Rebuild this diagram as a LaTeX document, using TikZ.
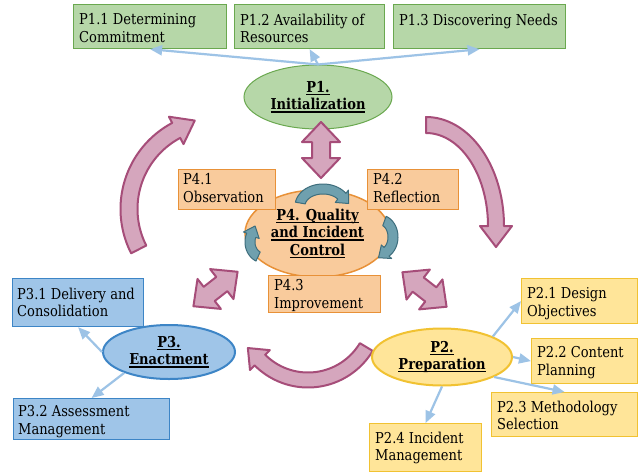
\documentclass[tikz,border=0pt]{standalone}
\usepackage{fontspec}
\setmainfont{DejaVu Serif}[FakeStretch=0.87]
\usetikzlibrary{shapes.geometric,arrows.meta}

\definecolor{gfill}{RGB}{182,215,168}
\definecolor{gline}{RGB}{106,168,79}
\definecolor{ofill}{RGB}{249,203,156}
\definecolor{oline}{RGB}{232,145,56}
\definecolor{bfill}{RGB}{159,197,232}
\definecolor{bline}{RGB}{61,133,198}
\definecolor{yfill}{RGB}{255,229,153}
\definecolor{yline}{RGB}{241,194,50}
\definecolor{pfill}{RGB}{213,166,189}
\definecolor{pline}{RGB}{166,77,121}
\definecolor{tfill}{RGB}{111,160,174}
\definecolor{tline}{RGB}{62,110,125}
\definecolor{conncol}{RGB}{157,195,230}

\newcommand{\myul}[1]{\setbox0\hbox{#1}\leavevmode\rlap{\rule[-2.6pt]{\wd0}{1.2pt}}\box0}

% cx cy rx ry t0 t1 halfwidth headhalfwidth headlength
\newcommand{\bentarrow}[9]{%
\pgfmathsetmacro{\baS}{2*(#6>#5)-1}%
\pgfmathsetmacro{\baPx}{#1+#3*cos(#6)}%
\pgfmathsetmacro{\baPy}{#2+#4*sin(#6)}%
\pgfmathsetmacro{\baTx}{\baS*(0-#3*sin(#6))}%
\pgfmathsetmacro{\baTy}{\baS*#4*cos(#6)}%
\pgfmathsetmacro{\baTl}{veclen(\baTx,\baTy)}%
\pgfmathsetmacro{\baNx}{#4*cos(#6)}%
\pgfmathsetmacro{\baNy}{#3*sin(#6)}%
\pgfmathsetmacro{\baNl}{veclen(\baNx,\baNy)}%
\pgfmathsetmacro{\baAx}{\baPx+#8*\baNx/\baNl}%
\pgfmathsetmacro{\baAy}{\baPy+#8*\baNy/\baNl}%
\pgfmathsetmacro{\baBx}{\baPx-#8*\baNx/\baNl}%
\pgfmathsetmacro{\baBy}{\baPy-#8*\baNy/\baNl}%
\pgfmathsetmacro{\baCx}{\baPx+#9*\baTx/\baTl}%
\pgfmathsetmacro{\baCy}{\baPy+#9*\baTy/\baTl}%
\path[bentstyle] plot[domain=#5:#6,samples=60] ({#1+(#3+#7)*cos(\x)},{#2+(#4+#7)*sin(\x)}) -- (\baAx,\baAy) -- (\baCx,\baCy) -- (\baBx,\baBy) -- plot[domain=#6:#5,samples=60] ({#1+(#3-#7)*cos(\x)},{#2+(#4-#7)*sin(\x)}) -- cycle;%
}

\newcommand{\dblarrow}[3]{%
\begin{scope}[shift={(#1,#2)},rotate=#3]
\path[pinkshape] (-28,0) -- (-8,19) -- (-8,9) -- (8,9) -- (8,19) -- (28,0) -- (8,-19) -- (8,-9) -- (-8,-9) -- (-8,-19) -- cycle;
\end{scope}}

\tikzset{
  boxbase/.style={anchor=north west, inner sep=0, line width=1.2pt},
  gbox/.style={boxbase, draw=gline, fill=gfill},
  obox/.style={boxbase, draw=oline, fill=ofill},
  bbox/.style={boxbase, draw=bline, fill=bfill},
  ybox/.style={boxbase, draw=yline, fill=yfill},
  btxt/.style={anchor=north west, inner sep=0, align=left},
  phase/.style={ellipse, inner sep=0, align=center, font=\fontsize{15}{17.3}\selectfont\bfseries},
  pinkshape/.style={fill=pfill, draw=pline, line width=2pt, line join=round},
  tealshape/.style={fill=tfill, draw=tline, line width=1pt, line join=round},
  conn/.style={draw=conncol, line width=2.2pt, -{Triangle[length=12pt,width=10pt]}},
}

\begin{document}
\begin{tikzpicture}[x=1pt, y=-1pt, font=\fontsize{15}{17.3}\selectfont]
\useasboundingbox (0,0) rectangle (638,472);
\fill[white] (0,0) rectangle (638,472);

% big pink cycle arrows
\tikzset{bentstyle/.style={pinkshape}}
\bentarrow{218}{209}{89}{89}{153}{242}{8.5}{15.5}{21}
\bentarrow{426}{226}{70}{101}{270}{360}{8}{16}{21}
\bentarrow{308}{312}{68}{68}{31}{135}{7.5}{14}{17}

% boxes
\node[gbox, minimum width=153, minimum height=44] (p11) at (73,4) {};
\node[gbox, minimum width=150, minimum height=44] (p12) at (234,4) {};
\node[gbox, minimum width=172, minimum height=44] (p13) at (393,4) {};

\node[ellipse, draw=gline, fill=gfill, line width=1pt, minimum width=148, minimum height=64, inner sep=0] (p1) at (318,97) {};

\node[ellipse, draw=oline, fill=ofill, line width=1.5pt, minimum width=145, minimum height=87, inner sep=0] (p4) at (317.5,233.5) {};
\node[obox, minimum width=97, minimum height=40] (p41) at (178,169) {};
\node[obox, minimum width=91, minimum height=40] (p42) at (367,169) {};
\node[obox, minimum width=112, minimum height=37] (p43) at (268,275) {};

\node[bbox, minimum width=131, minimum height=48] (p31) at (12,278) {};
\node[bbox, minimum width=156, minimum height=41] (p32) at (13,398) {};
\node[ellipse, draw=bline, fill=bfill, line width=2pt, minimum width=132, minimum height=54, inner sep=0] (p3) at (169,352) {};

\node[ybox, minimum width=116, minimum height=45] (p21) at (521,278) {};
\node[ybox, minimum width=106, minimum height=45] (p22) at (531,338) {};
\node[ybox, minimum width=146, minimum height=44] (p23) at (491,392) {};
\node[ybox, minimum width=112, minimum height=48] (p24) at (369,423) {};
\node[ellipse, draw=yline, fill=yfill, line width=2pt, minimum width=140, minimum height=57, inner sep=0] (p2) at (442,357) {};

% double arrows
\dblarrow{321}{150}{90}
\dblarrow{215.5}{289}{38}
\dblarrow{424.5}{289.5}{-38}

% teal cycle arrows
\tikzset{bentstyle/.style={tealshape}}
\bentarrow{323}{206}{23}{17}{190}{325}{5}{9}{10}
\bentarrow{380}{237}{13}{17}{290}{420}{5}{8.5}{10}
\bentarrow{264}{242}{14}{16}{115}{205}{5}{8.5}{10}

% texts
\node[btxt] (t11) at (79,13.5) {P1.1 Determining\\Commitment};
\node[btxt] (t12) at (240,13.5) {P1.2 Availability of\\Resources};
\node[btxt] (t13) at (399,13.5) {P1.3 Discovering Needs};
\node[btxt] (t41) at (183,173.5) {P4.1\\Observation};
\node[btxt] (t42) at (373,173.5) {P4.2\\Reflection};
\node[btxt] (t43) at (274,279.5) {P4.3\\Improvement};
\node[btxt] (t31) at (17,287.5) {P3.1 Delivery and\\Consolidation};
\node[btxt] (t32) at (18,405.5) {P3.2 Assessment\\Management};
\node[btxt] (t21) at (527,287.5) {P2.1 Design\\Objectives};
\node[btxt] (t22) at (537,346.5) {P2.2 Content\\Planning};
\node[btxt] (t23) at (497,400.5) {P2.3 Methodology\\Selection};
\node[btxt] (t24) at (375,431.5) {P2.4 Incident\\Management};

\node[phase] (l1) at (p1.center) {\myul{P1.}\\\myul{Initialization}};
\node[phase] (l4) at (p4.center) {\myul{P4. Quality}\\\myul{and Incident}\\\myul{Control}};
\node[phase] (l3) at (p3.center) {\myul{P3.}\\\myul{Enactment}};
\node[phase] (l2) at (p2.center) {\myul{P2.}\\\myul{Preparation}};

% connectors
\draw[conn] (p1.north) -- (p11.south);
\draw[conn] (p1.north) -- (p12.south);
\draw[conn] (p1.north) -- (p13.south);
\draw[conn] (p3.west) -- (p31.south);
\draw[conn] (p3.205) -- (p32.north);
\draw[conn] (p2.22) -- (p21.west);
\draw[conn] (p2.east) -- (p22.west);
\draw[conn] (p2.-21) -- (p23.north);
\draw[conn] (p2.south) -- (p24.north);
\end{tikzpicture}
\end{document}
